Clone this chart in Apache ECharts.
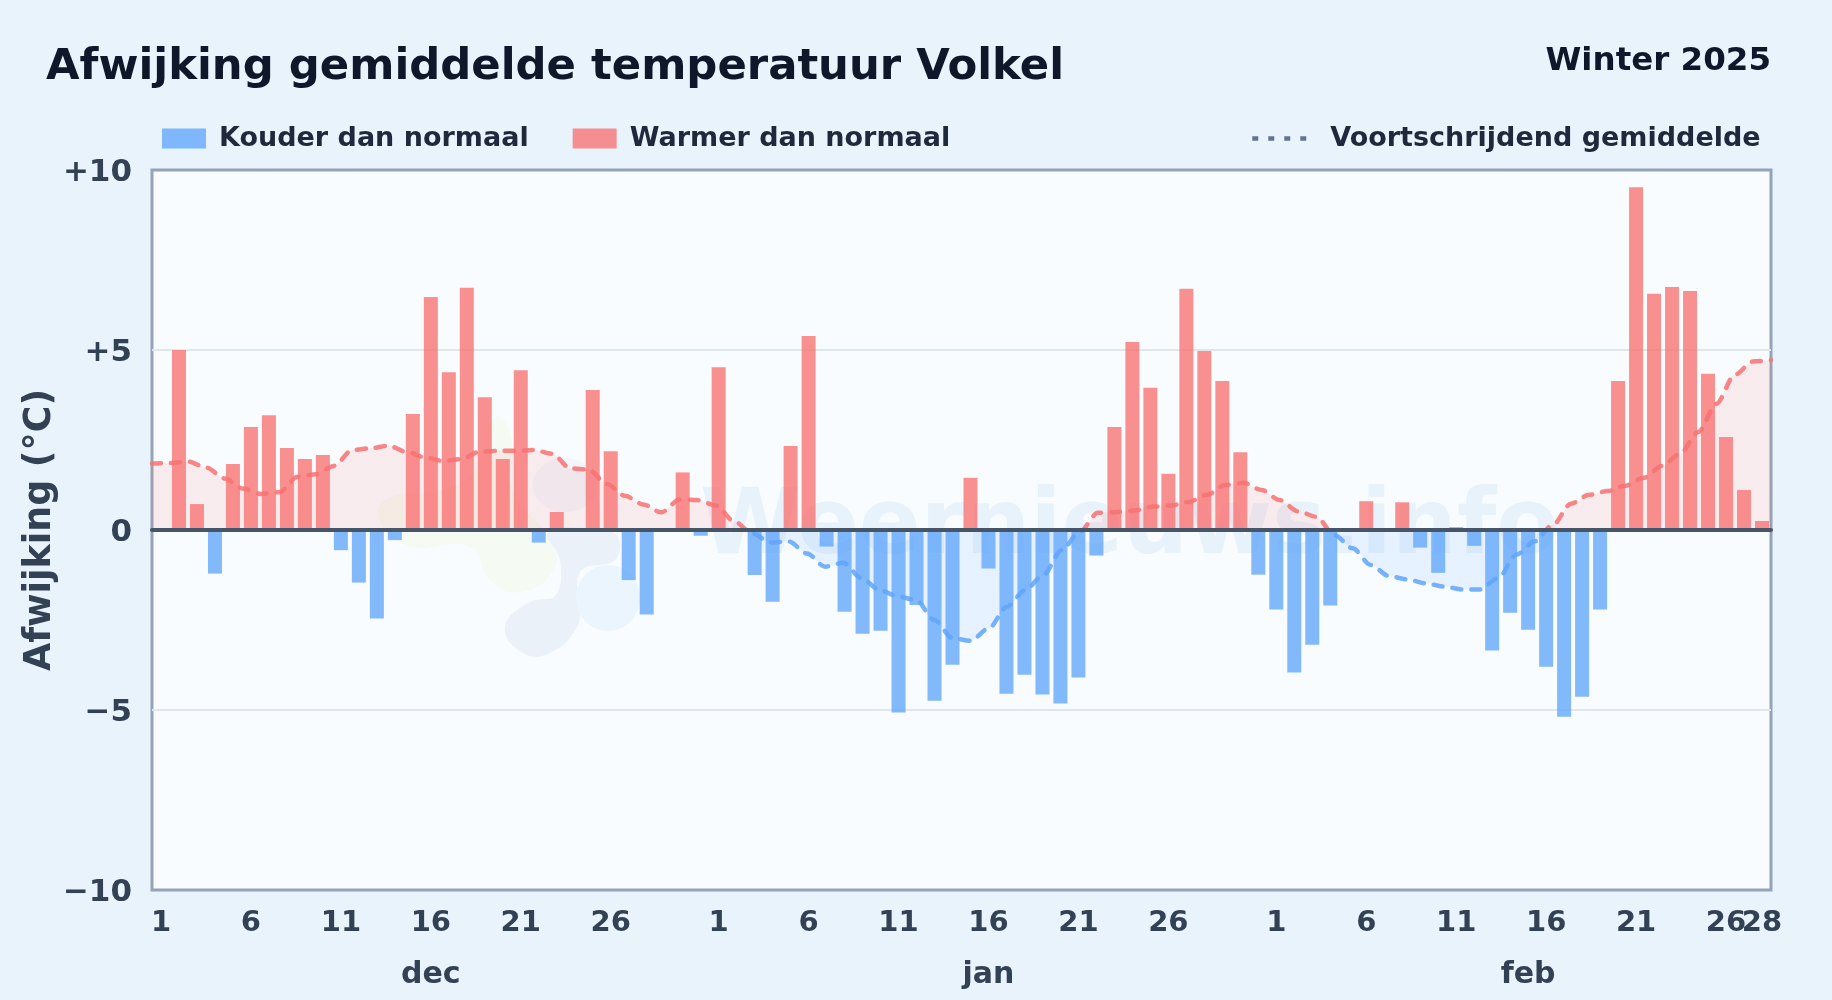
<!DOCTYPE html>
<html><head><meta charset="utf-8">
<style>html,body{margin:0;padding:0;background:#e9f3fc}#c{width:1832px;height:1000px}</style>
<script src="https://cdn.jsdelivr.net/npm/echarts@6/dist/echarts.min.js"></script>
</head><body><div id="c"></div>
<script>
// Daily anomaly (°C); 0 = no bar drawn
const decValues = [0,5.0,0.72,-1.21,1.83,2.86,3.19,2.28,1.97,2.08,-0.56,-1.46,-2.46,-0.28,3.22,6.47,4.38,6.73,3.69,1.97,4.44,-0.35,0.5,0,3.89,2.19,-1.39,-2.35,0,1.6,-0.16];
const janValues = [4.52,0,-1.25,-1.99,2.33,5.39,-0.46,-2.27,-2.88,-2.80,-5.07,-2.08,-4.74,-3.74,1.45,-1.07,-4.55,-4.02,-4.57,-4.82,-4.10,-0.71,2.86,5.22,3.95,1.56,6.70,4.97,4.14,2.16,-1.24];
const febValues = [-2.21,-3.96,-3.19,-2.10,0,0.80,0,0.77,-0.49,-1.19,0.08,-0.44,-3.35,-2.30,-2.77,-3.80,-5.19,-4.63,-2.21,4.14,9.52,6.56,6.75,6.64,4.34,2.58,1.11,0.25];
// Moving average
const movingAverage = [1.85,1.86,1.90,1.73,1.43,1.15,1.0,1.05,1.48,1.55,1.78,2.22,2.27,2.34,2.17,2.02,1.92,1.97,2.17,2.2,2.2,2.22,2.12,1.71,1.68,1.28,0.95,0.71,0.49,0.85,0.83,0.68,0.24,-0.09,-0.35,-0.32,-0.65,-1.02,-0.91,-1.34,-1.67,-1.85,-1.94,-2.5,-3.0,-3.08,-2.73,-2.13,-1.67,-1.25,-0.56,-0.05,0.48,0.5,0.54,0.65,0.68,0.78,0.98,1.25,1.31,1.11,0.83,0.52,0.37,-0.14,-0.51,-0.97,-1.28,-1.37,-1.48,-1.57,-1.65,-1.65,-1.34,-0.69,-0.32,0.14,0.73,0.98,1.08,1.23,1.45,1.78,2.12,2.72,3.51,4.31,4.68,4.72];
const monthNames = ['dec','jan','feb'];
const monthLabelDays = [16,16,15];
const yTicks = [-10,-5,0,5,10];

const months = [decValues, janValues, febValues];
const values = months.flat();
const dayLabels = months.flatMap(m => m.map((_, i) => String(i + 1)));
const monthLabels = months.flatMap((m, k) => m.map((_, i) => i + 1 === monthLabelDays[k] ? monthNames[k] : ''));
const warm = values.map(v => v > 0 ? v : null);
const cold = values.map(v => v < 0 ? v : null);
const lastIdx = values.length - 1;
const lastDayLabels = dayLabels.map((d, i) => i === lastIdx ? d : '');

// two-tone colour split at the zero line, which sits half way down the plot
const splitGlobal = (a, b) => ({type: 'linear', x: 0, y: 170, x2: 0, y2: 890, global: true,
  colorStops: [{offset: 0, color: a}, {offset: .5, color: a}, {offset: .5, color: b}, {offset: 1, color: b}]});

const chart = echarts.init(document.getElementById('c'));
const F = '"DejaVu Sans"';
const dayLabelStyle = {margin: 19, fontFamily: F, fontWeight: 'bold', fontSize: 29, color: '#334155'};
chart.setOption({
  backgroundColor: '#e9f3fc',
  animation: false,
  textStyle: {fontFamily: F},
  title: [
    {text: 'Afwijking gemiddelde temperatuur Volkel', left: 46, top: 46, padding: 0,
     textStyle: {fontFamily: F, fontWeight: 'bold', fontSize: 43.35, color: '#0f172a'}},
    {text: 'Winter 2025', right: 61, top: 45, padding: 0,
     textStyle: {fontFamily: F, fontWeight: 'bold', fontSize: 32.5, color: '#0f172a'}}
  ],
  legend: [
    {left: 162, top: 125, padding: 0, itemWidth: 44, itemHeight: 20, itemGap: 44, selectedMode: false,
     icon: 'rect', data: ['Kouder dan normaal', 'Warmer dan normaal'],
     textStyle: {fontFamily: F, fontWeight: 'bold', fontSize: 27, color: '#1e293b', padding: [0,0,0,8]}},
    {left: 1250, top: 125, padding: 0, itemWidth: 62, itemHeight: 20, selectedMode: false,
     data: ['Voortschrijdend gemiddelde'],
     lineStyle: {color: '#64748b', width: 4.5, type: [6, 10], cap: 'butt', opacity: 1},
     itemStyle: {opacity: 0},
     textStyle: {fontFamily: F, fontWeight: 'bold', fontSize: 27, color: '#1e293b', padding: [0,0,0,11]}}
  ],
  grid: {left: 152, right: 61, top: 170, height: 720, show: true, backgroundColor: '#f8fcff', borderColor: '#94a3b8', borderWidth: 3},
  xAxis: [
    {type: 'category', data: dayLabels, z: 5, boundaryGap: true,
     axisLine: {onZero: true, lineStyle: {color: '#475569', width: 4}},
     axisTick: {show: false}, splitLine: {show: false},
     axisLabel: {...dayLabelStyle, interval: i => +dayLabels[i] < 31 && (+dayLabels[i] - 1) % 5 === 0, hideOverlap: false}},
    {type: 'category', data: dayLabels, boundaryGap: false, show: false},
    {type: 'category', data: monthLabels, position: 'bottom', offset: 56, boundaryGap: true,
     axisLine: {show: false, onZero: false}, axisTick: {show: false}, splitLine: {show: false},
     axisLabel: {interval: 0, margin: 14, fontFamily: F, fontWeight: 'bold', fontSize: 30, color: '#334155'}},
    {type: 'category', data: lastDayLabels, position: 'bottom', boundaryGap: true,
     axisLine: {show: false, onZero: false}, axisTick: {show: false}, splitLine: {show: false},
     axisLabel: {...dayLabelStyle, interval: 0}}
  ],
  yAxis: {
    type: 'value', min: -10, max: 10, interval: 5,
    name: 'Afwijking (°C)', nameLocation: 'middle', nameGap: 93, nameRotate: 90, nameMoveOverlap: false,
    nameTextStyle: {fontFamily: F, fontWeight: 'bold', fontSize: 36.4, color: '#334155'},
    axisLine: {show: false}, axisTick: {show: false},
    splitLine: {showMinLine: false, showMaxLine: false, lineStyle: {color: '#dfe6ec', width: 2}},
    axisLabel: {
      margin: 20, fontFamily: F, fontWeight: 'bold', fontSize: 31, color: '#334155',
      rich: {t: {fontFamily: F, fontWeight: 'bold', fontSize: 31, color: '#334155', padding: [6,0,0,0]}},
      formatter: v => '{t|' + (yTicks.includes(v) ? (v > 0 ? '+' + v : v < 0 ? '\u2212' + Math.abs(v) : '0') : '') + '}'}
  },
  graphic: [
    {type: 'polygon', z: 1, silent: true, shape: {smooth: 0.5, points: [[495,417],[512,440],[512,490],[550,540],[553,570],[520,592],[490,580],[470,547],[410,546],[382,525],[385,500],[440,490],[475,470]]},
     style: {fill: '#eef6d8', opacity: 0.3}},
    {type: 'polygon', z: 1, silent: true, shape: {smooth: 0.4, points: [[506,623],[530,602],[556,595],[560,560],[548,533],[585,528],[617,535],[615,560],[580,572],[578,625],[542,656],[512,645]]},
     style: {fill: '#e8f0f8', opacity: 0.9}},
    {type: 'ellipse', z: 1, silent: true, shape: {cx: 565, cy: 485, rx: 32, ry: 27}, style: {fill: '#dfe9f4', opacity: 0.3}},
    {type: 'ellipse', z: 1, silent: true, shape: {cx: 608, cy: 598, rx: 32, ry: 33}, style: {fill: '#eaf5fe', opacity: 1}},
    {type: 'text', z: 1, silent: true, left: 700, top: 484,
     style: {text: 'Weernieuws.info', fontFamily: F, fontWeight: 'bold', fontSize: 91, fill: '#2f80c8', opacity: 0.08}}
  ],
  series: [
    {name: 'Kouder dan normaal', type: 'bar', stack: 'a', xAxisIndex: 0, data: cold, barWidth: 14, z: 3,
     itemStyle: {color: '#60a5fa', opacity: 0.78}},
    {name: 'Warmer dan normaal', type: 'bar', stack: 'a', xAxisIndex: 0, data: warm, barWidth: 14, z: 3,
     itemStyle: {color: '#f87171', opacity: 0.78}},
    {name: 'Voortschrijdend gemiddelde', type: 'line', xAxisIndex: 1, data: movingAverage, z: 4,
     showSymbol: false, symbol: 'none', smooth: 0.3, smoothMonotone: 'x',
     lineStyle: {width: 4.5, type: [9, 10], cap: 'round', opacity: 0.85, color: splitGlobal('#f87171', '#60a5fa')},
     itemStyle: {color: '#64748b'},
     areaStyle: {opacity: 0.12, color: splitGlobal('#f87171', '#60a5fa')}}
  ]
});
</script></body></html>
